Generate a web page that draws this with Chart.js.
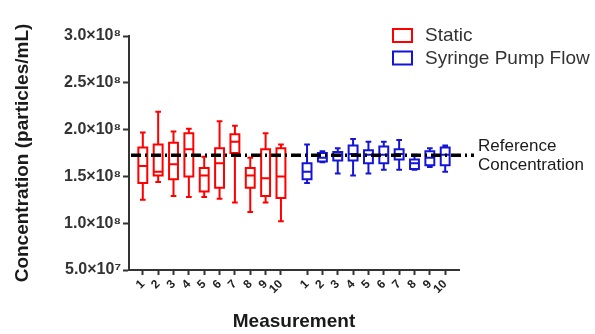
<!DOCTYPE html>
<html>
<head>
<meta charset="utf-8">
<script src="https://cdn.jsdelivr.net/npm/chart.js@4.4.0/dist/chart.umd.min.js"></script>
<style>
  html, body { margin: 0; padding: 0; background: #fff; }
  #wrap { width: 595px; height: 334px; }
</style>
</head>
<body>
<div id="wrap"><canvas id="boxChart" width="595" height="334"></canvas></div>
<script>
(function () {
    "use strict";

    var measurements = ['1', '2', '3', '4', '5', '6', '7', '8', '9', '10'];
    var seriesNames = ['Static', 'Syringe Pump Flow'];
    var yTickValues = [5.0e7, 1.0e8, 1.5e8, 2.0e8, 2.5e8, 3.0e8];
    var referenceConcentration = 1.725e8;

    // static sampling, one value per measurement
    var staticMin    = [1.25e8, 1.44e8, 1.29e8, 1.28e8, 1.28e8, 1.26e8, 1.22e8, 1.12e8, 1.22e8, 1.02e8];
    var staticQ1     = [1.43e8, 1.51e8, 1.47e8, 1.50e8, 1.34e8, 1.38e8, 1.75e8, 1.38e8, 1.29e8, 1.27e8];
    var staticMedian = [1.61e8, 1.55e8, 1.63e8, 1.79e8, 1.51e8, 1.64e8, 1.87e8, 1.51e8, 1.48e8, 1.50e8];
    var staticQ3     = [1.81e8, 1.84e8, 1.86e8, 1.96e8, 1.59e8, 1.80e8, 1.95e8, 1.59e8, 1.79e8, 1.80e8];
    var staticMax    = [1.97e8, 2.19e8, 1.98e8, 2.01e8, 1.71e8, 2.09e8, 2.04e8, 1.70e8, 1.96e8, 1.84e8];

    // syringe pump flow
    var pumpMin    = [1.43e8, 1.65e8, 1.53e8, 1.51e8, 1.53e8, 1.57e8, 1.57e8, 1.57e8, 1.60e8, 1.55e8];
    var pumpQ1     = [1.47e8, 1.66e8, 1.67e8, 1.67e8, 1.64e8, 1.64e8, 1.68e8, 1.58e8, 1.62e8, 1.62e8];
    var pumpMedian = [1.55e8, 1.70e8, 1.73e8, 1.74e8, 1.73e8, 1.73e8, 1.74e8, 1.64e8, 1.70e8, 1.73e8];
    var pumpQ3     = [1.64e8, 1.75e8, 1.76e8, 1.83e8, 1.78e8, 1.82e8, 1.79e8, 1.68e8, 1.77e8, 1.81e8];
    var pumpMax    = [1.84e8, 1.77e8, 1.80e8, 1.90e8, 1.87e8, 1.87e8, 1.89e8, 1.73e8, 1.80e8, 1.83e8];

    var RED = 'rgb(255, 0, 0)';
    var BLUE = 'rgb(20, 20, 215)';
    var groupGap = 10.7;   // where the second group starts on the x scale
    var boxHalf = 0.29, capHalf = 0.12;

    var staticX = measurements.map(function (m, i) { return i + 1; });
    var pumpX = measurements.map(function (m, i) { return i + 1 + groupGap; });
    var tickPositions = staticX.concat(pumpX);

    // every box, median, whisker and cap as line pieces split by gaps
    function boxSegments(xs, lo, q1, med, q3, hi) {
        var pts = [];
        function seg(list) {
            pts.push.apply(pts, list);
            pts.push({x: list[list.length - 1].x, y: null});
        }
        xs.forEach(function (x, i) {
            seg([{x: x - boxHalf, y: q1[i]}, {x: x + boxHalf, y: q1[i]},
                 {x: x + boxHalf, y: q3[i]}, {x: x - boxHalf, y: q3[i]},
                 {x: x - boxHalf, y: q1[i]}]);
            seg([{x: x - boxHalf, y: med[i]}, {x: x + boxHalf, y: med[i]}]);
            seg([{x: x, y: q3[i]}, {x: x, y: hi[i]}]);
            seg([{x: x - capHalf, y: hi[i]}, {x: x + capHalf, y: hi[i]}]);
            seg([{x: x, y: q1[i]}, {x: x, y: lo[i]}]);
            seg([{x: x - capHalf, y: lo[i]}, {x: x + capHalf, y: lo[i]}]);
        });
        return pts;
    }

    function boxDataset(label, color, pts) {
        return {
            label: label,
            data: pts,
            borderColor: color,
            borderWidth: 2,
            fill: false,
            spanGaps: false,
            tension: 0,
            pointRadius: 0,
            pointHitRadius: 0,
            borderCapStyle: 'square',
            borderJoinStyle: 'miter'
        };
    }

    function yLabel(v) {
        if (v < 1e8) {
            return (v / 1e7).toFixed(1) + '×10⁷';
        }
        return (v / 1e8).toFixed(1) + '×10⁸';
    }

    var extras = {
        id: 'extras',
        afterDatasetsDraw: function (chart) {
            var ctx = chart.ctx;
            var area = chart.chartArea;
            var y = chart.scales.y.getPixelForValue(referenceConcentration);
            ctx.save();
            ctx.strokeStyle = '#000';
            ctx.lineWidth = 3.5;
            ctx.setLineDash([10, 4, 2, 4]);
            ctx.beginPath();
            ctx.moveTo(area.left + 2, y);
            ctx.lineTo(area.right + 15, y);
            ctx.stroke();
            ctx.setLineDash([]);

            ctx.fillStyle = '#1a1a1a';
            ctx.font = '17px "Liberation Sans", Arial, sans-serif';
            ctx.textBaseline = 'middle';
            ctx.textAlign = 'left';
            ctx.fillText('Reference', area.right + 19, y - 9.5);
            ctx.fillText('Concentration', area.right + 19, y + 9.5);
            ctx.restore();
        },
        afterDraw: function (chart) {
            var ctx = chart.ctx;
            var colors = [RED, BLUE];
            ctx.save();
            ctx.font = '19px "Liberation Sans", Arial, sans-serif';
            ctx.textBaseline = 'middle';
            ctx.textAlign = 'left';
            seriesNames.forEach(function (name, i) {
                var top = 28 + i * 22.5;
                ctx.fillStyle = '#fff';
                ctx.fillRect(393, top + 1, 19, 13);
                ctx.strokeStyle = colors[i];
                ctx.lineWidth = 2;
                ctx.strokeRect(393, top + 1, 19, 13);
                ctx.fillStyle = '#333';
                ctx.fillText(name, 425, top + 8);
            });
            ctx.restore();
        }
    };

    var ctx1 = document.getElementById('boxChart').getContext('2d');
    var myChart = new Chart(ctx1, {
        type: 'line',
        data: {
            datasets: [
                boxDataset(seriesNames[0], RED,
                    boxSegments(staticX, staticMin, staticQ1, staticMedian, staticQ3, staticMax)),
                boxDataset(seriesNames[1], BLUE,
                    boxSegments(pumpX, pumpMin, pumpQ1, pumpMedian, pumpQ3, pumpMax))
            ]
        },
        options: {
            responsive: false,
            animation: false,
            layout: { padding: { top: 36, right: 136, left: 0, bottom: 0 } },
            plugins: {
                legend: { display: false },
                tooltip: { enabled: false }
            },
            scales: {
                x: {
                    type: 'linear',
                    min: 0.1,
                    max: 21.6,
                    afterBuildTicks: function (scale) {
                        scale.ticks = tickPositions.map(function (v) { return {value: v}; });
                    },
                    afterFit: function (scale) { scale.height = 64; },
                    ticks: {
                        autoSkip: false,
                        minRotation: 45,
                        maxRotation: 45,
                        padding: 2,
                        color: '#222',
                        font: { family: '"Liberation Sans", Arial, sans-serif', size: 12, weight: 'bold' },
                        callback: function (value, index) { return measurements[index % measurements.length]; }
                    },
                    grid: {
                        drawOnChartArea: false,
                        drawTicks: true,
                        tickLength: 5,
                        tickWidth: 2,
                        tickColor: '#333'
                    },
                    border: { color: '#333', width: 2 },
                    title: {
                        display: true,
                        text: 'Measurement',
                        color: '#1a1a1a',
                        padding: { top: 0, bottom: 1 },
                        font: { family: '"Liberation Sans", Arial, sans-serif', size: 19, weight: 'bold' }
                    }
                },
                y: {
                    min: 5e7,
                    max: 3e8,
                    afterBuildTicks: function (scale) {
                        scale.ticks = yTickValues.map(function (v) { return {value: v}; });
                    },
                    afterFit: function (scale) { scale.width = 129; },
                    ticks: {
                        padding: 2,
                        color: '#333',
                        font: { family: '"Liberation Sans", Arial, sans-serif', size: 16, weight: 'bold' },
                        callback: function (value) { return yLabel(value); }
                    },
                    grid: {
                        drawOnChartArea: false,
                        drawTicks: true,
                        tickLength: 6,
                        tickWidth: 2,
                        tickColor: '#333'
                    },
                    border: { color: '#333', width: 2 },
                    title: {
                        display: true,
                        text: 'Concentration (particles/mL)',
                        color: '#1a1a1a',
                        padding: { top: 11, bottom: 0 },
                        font: { family: '"Liberation Sans", Arial, sans-serif', size: 19, weight: 'bold' }
                    }
                }
            }
        },
        plugins: [extras]
    });

})();
</script>
</body>
</html>
